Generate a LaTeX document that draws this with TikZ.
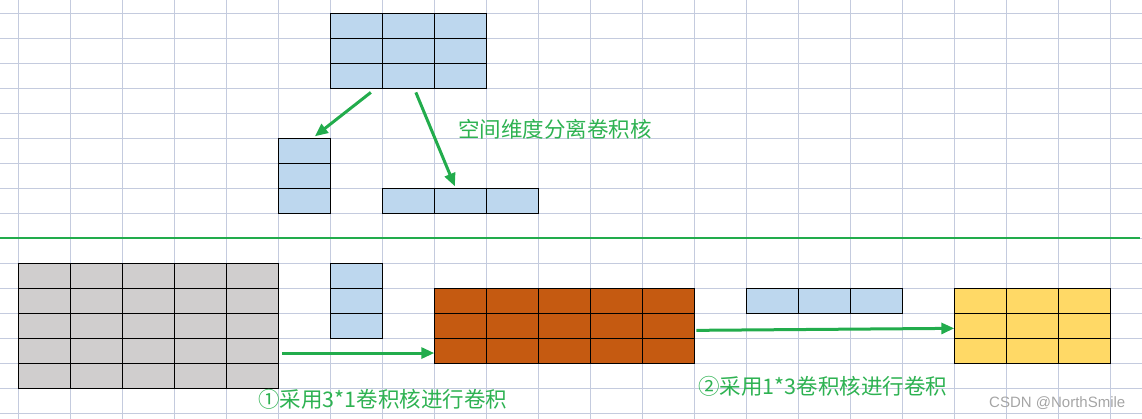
\documentclass[tikz,border=0pt]{standalone}
\usepackage{fontspec}
\newfontfamily\cjk{Noto Sans CJK SC}
\newfontfamily\marksans{Liberation Sans}
\usetikzlibrary{arrows.meta}

\definecolor{gridblue}{RGB}{196,203,222}
\definecolor{arrowgreen}{RGB}{34,172,76}
\definecolor{textgreen}{RGB}{46,178,82}
\definecolor{kernelblue}{RGB}{189,215,238}
\definecolor{inputgray}{RGB}{208,206,206}
\definecolor{midorange}{RGB}{197,90,17}
\definecolor{outyellow}{RGB}{255,217,102}
\definecolor{markgray}{RGB}{165,165,165}

\tikzset{
  bggrid/.style={gridblue, line width=1.2pt},
  blockbox/.style={draw=black, line width=1.1pt, inner sep=0pt, anchor=north west},
  cellline/.style={draw=black, line width=1.1pt},
  greenarrow/.style={arrowgreen, line width=3pt, -{Triangle[length=13pt,width=11pt]}},
  captext/.style={textgreen, font=\cjk\fontsize{21.5}{24}\selectfont, inner sep=0pt, anchor=west},
  marktext/.style={markgray, font=\marksans\fontsize{15}{17}\selectfont, inner sep=0pt, anchor=west},
}

% block of cells 52 x 25, top left corner at (#2,#3)
\newcommand{\cellblock}[6]{%
  \node[blockbox, fill=#6, minimum width=#4*52pt, minimum height=#5*25pt] (#1) at (#2,#3) {};
  \foreach \cx in {1,...,#4} \foreach \ry in {1,...,#5}
    \draw[cellline] (#2+52*\cx-52,#3+25*\ry-25) rectangle ++(52,25);
}

\begin{document}
\begin{tikzpicture}[x=1pt,y=-1pt]
  \useasboundingbox (0,0) rectangle (1142,419);
  % background grid
  \foreach \i in {0,...,21} \draw[bggrid] (18.3+52*\i,0) -- ++(0,419);
  \foreach \j in {0,...,16} \draw[bggrid] (0,13.3+25*\j) -- ++(1142,0);

  % separable kernel
  \cellblock{kernel}{330.3}{13.3}{3}{3}{kernelblue}
  \cellblock{kcol}{278.3}{138.3}{1}{3}{kernelblue}
  \cellblock{krow}{382.3}{188.3}{3}{1}{kernelblue}
  \draw[greenarrow] ([xshift=-38pt,yshift=-3pt]kernel.south) -- ([xshift=10pt,yshift=2pt]kcol.north);
  \draw[greenarrow] ([xshift=7pt,yshift=-3pt]kernel.south) -- ([xshift=-6pt,yshift=2pt]krow.north);
  \node[captext] (sep) at (458,129) {空间维度分离卷积核};

  \coordinate (divl) at (0,238.3);
  \coordinate (divr) at (1140,238.3);
  \draw[arrowgreen, line width=2pt] (divl) -- (divr);

  % two steps
  \cellblock{input}{18.3}{263.3}{5}{5}{inputgray}
  \cellblock{kcolb}{330.3}{263.3}{1}{3}{kernelblue}
  \cellblock{mid}{434.3}{288.3}{5}{3}{midorange}
  \cellblock{krowb}{746.3}{288.3}{3}{1}{kernelblue}
  \cellblock{output}{954.3}{288.3}{3}{3}{outyellow}
  \coordinate (s1) at ([xshift=3pt,yshift=-26.7pt]input.east);
  \draw[greenarrow] (s1) -- (s1 -| mid.west);
  \draw[greenarrow] ([xshift=1pt,yshift=-4pt]mid.east) -- ([yshift=-2pt]output.west);
  \node[captext] (step1) at (258,399) {①采用3*1卷积核进行卷积};
  \node[captext] (step2) at (698,386) {②采用1*3卷积核进行卷积};
  \node[marktext] (mark) at (989,403.5) {CSDN @NorthSmile};
\end{tikzpicture}
\end{document}
